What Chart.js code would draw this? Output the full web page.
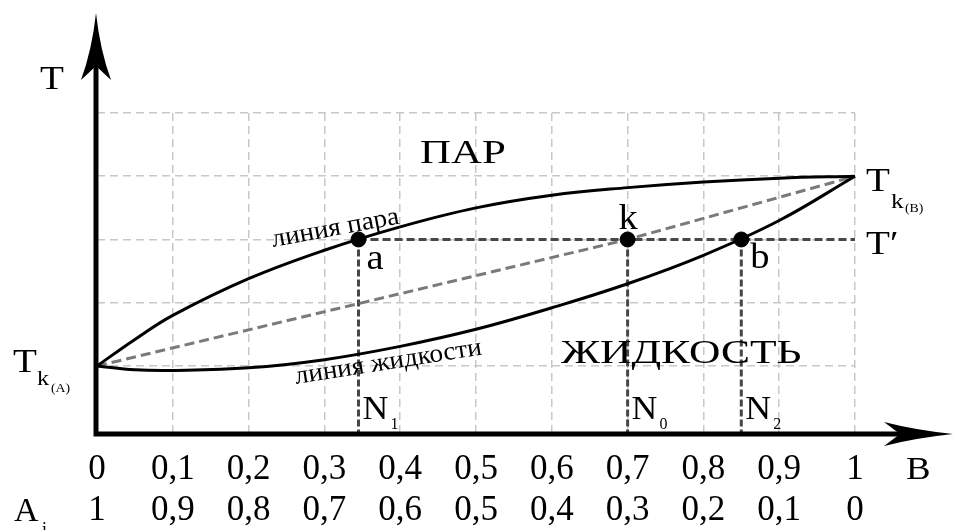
<!DOCTYPE html>
<html>
<head>
<meta charset="utf-8">
<title>Диаграмма кипения</title>
<script src="https://cdn.jsdelivr.net/npm/chart.js@4/dist/chart.umd.min.js"></script>
<style>
    html, body { margin: 0; padding: 0; background: #fff; }
    #chart { display: block; }
</style>
</head>
<body>
<canvas id="chart" width="956" height="530"></canvas>
<script>
// Composition axis: fraction of B, with the fraction of A underneath
const bTicks = [0, 0.1, 0.2, 0.3, 0.4, 0.5, 0.6, 0.7, 0.8, 0.9, 1];
const bLabels = ['0', '0,1', '0,2', '0,3', '0,4', '0,5', '0,6', '0,7', '0,8', '0,9', '1'];
const aLabels = ['1', '0,9', '0,8', '0,7', '0,6', '0,5', '0,4', '0,3', '0,2', '0,1', '0'];
const tGrid = [1, 2, 3, 4, 5];

// Vapour line (upper curve)
const vapourX = [0, 0.05, 0.1, 0.2, 0.3, 0.4, 0.5, 0.6, 0.7, 0.8, 0.9, 1];
const vapourT = [1, 1.42, 1.8, 2.38, 2.83, 3.2, 3.5, 3.70, 3.82, 3.91, 3.97, 4];

// Liquid line (lower curve)
const liquidX = [0, 0.05, 0.1, 0.2, 0.3, 0.4, 0.5, 0.6, 0.7, 0.8, 0.9, 1];
const liquidT = [1, 0.94, 0.93, 0.97, 1.1, 1.31, 1.58, 1.92, 2.30, 2.75, 3.3, 4];

// Dashed line from Tk(A) through k to Tk(B)
const diagX = [0, 0.7, 1];
const diagT = [1, 3, 4];

// Points a, k, b on the isotherm T'
const pointNames = ['a', 'k', 'b'];
const pointX = [0.345, 0.7, 0.85];
const dropNames = ['1', '0', '2'];
const tPrime = 3;

const T_MIN = -0.06;
const T_MAX = 5;
const serif = '"Liberation Serif", "DejaVu Serif", serif';

const toXY = (xs, ys) => xs.map((x, i) => ({ x: x, y: ys[i] }));

// Vertical drop lines from each point down to the axis
const dropLines = pointX.map(x => ({
    data: [{ x: x, y: tPrime }, { x: x, y: T_MIN }],
    borderColor: '#474747',
    borderWidth: 3,
    borderDash: [7, 3],
    pointRadius: 0,
    showLine: true,
    clip: false
}));

// Text helper, slightly widened like the original lettering
function label(ctx, s, x, y, size, sx, angle) {
    ctx.save();
    ctx.translate(x, y);
    if (angle) ctx.rotate(angle * Math.PI / 180);
    ctx.scale(sx || 1.15, 1);
    ctx.font = size + 'px ' + serif;
    ctx.fillStyle = '#000';
    ctx.textBaseline = 'alphabetic';
    ctx.fillText(s, 0, 0);
    ctx.restore();
}

// Thick axes with notched arrow heads plus all the annotations
const diagramPlugin = {
    id: 'diagram',
    afterDatasetsDraw(chart) {
        const ctx = chart.ctx;
        const xs = chart.scales.x;
        const ys = chart.scales.y;
        const ox = xs.left - 1;
        const oy = ys.bottom + 1;

        ctx.save();
        ctx.strokeStyle = '#000';
        ctx.fillStyle = '#000';
        ctx.lineWidth = 5;
        ctx.beginPath();
        ctx.moveTo(ox, oy + 2.5);
        ctx.lineTo(ox, 40);
        ctx.moveTo(ox - 2.5, oy);
        ctx.lineTo(920, oy);
        ctx.stroke();

        // y arrow
        ctx.beginPath();
        ctx.moveTo(ox, 13);
        ctx.quadraticCurveTo(ox - 4, 50, ox - 15, 80);
        ctx.lineTo(ox, 66);
        ctx.lineTo(ox + 15, 80);
        ctx.quadraticCurveTo(ox + 4, 50, ox, 13);
        ctx.fill();

        // x arrow
        ctx.beginPath();
        ctx.moveTo(953, oy);
        ctx.quadraticCurveTo(915, oy - 4, 884, oy - 12);
        ctx.lineTo(900, oy);
        ctx.lineTo(884, oy + 12);
        ctx.quadraticCurveTo(915, oy + 4, 953, oy);
        ctx.fill();
        ctx.restore();

        // axis names
        label(ctx, 'T', 40, 89, 34);
        label(ctx, 'B', 906, 479, 32);
        label(ctx, 'A', 14, 521, 34, 1.0);
        label(ctx, 'i', 42, 535, 18, 1.0);

        // critical temperatures
        const yA = ys.getPixelForValue(vapourT[0]);
        label(ctx, 'T', 13, yA + 6, 34);
        label(ctx, 'k', 37, yA + 19, 21);
        label(ctx, '(A)', 51, yA + 26, 12);
        const xB = xs.getPixelForValue(1);
        const yB = ys.getPixelForValue(vapourT[vapourT.length - 1]);
        label(ctx, 'T', xB + 11, yB + 15, 34);
        label(ctx, 'k', xB + 36, yB + 32, 22);
        label(ctx, '(B)', xB + 50, yB + 36, 12);
        label(ctx, 'T\u2032', xB + 11, ys.getPixelForValue(tPrime) + 15, 34);

        // region names
        label(ctx, 'ПАР', 420, 163, 33, 1.3);
        label(ctx, 'ЖИДКОСТЬ', 561, 363, 34, 1.28);

        // curve names
        label(ctx, 'линия пара', 273, 247, 26, 1.05, -10.5);
        label(ctx, 'линия жидкости', 296, 384, 26, 1.05, -9);

        // point letters and composition marks
        const yT = ys.getPixelForValue(tPrime);
        const pa = xs.getPixelForValue(pointX[0]);
        const pk = xs.getPixelForValue(pointX[1]);
        const pb = xs.getPixelForValue(pointX[2]);
        label(ctx, pointNames[0], pa + 8, yT + 30, 35, 1.1);
        label(ctx, pointNames[1], pk - 9, yT - 10, 35, 1.1);
        label(ctx, pointNames[2], pb + 9, yT + 29, 35, 1.1);
        pointX.forEach((x, i) => {
            const px = xs.getPixelForValue(x);
            label(ctx, 'N', px + 4, oy - 15, 34, 1.05);
            label(ctx, dropNames[i], px + 32, oy - 5, 16, 1.0);
        });
    }
};

new Chart(document.getElementById('chart').getContext('2d'), {
    type: 'scatter',
    data: {
        datasets: [
            {
                data: pointX.map(x => ({ x: x, y: tPrime })),
                backgroundColor: '#000',
                borderColor: '#000',
                pointRadius: 7.5,
                showLine: false,
                clip: false
            },
            {
                data: toXY(vapourX, vapourT),
                borderColor: '#000',
                borderWidth: 3,
                pointRadius: 0,
                showLine: true,
                tension: 0.4,
                clip: false
            },
            {
                data: toXY(liquidX, liquidT),
                borderColor: '#000',
                borderWidth: 3,
                pointRadius: 0,
                showLine: true,
                tension: 0.4,
                clip: false
            },
            {
                data: toXY(diagX, diagT),
                borderColor: '#7a7a7a',
                borderWidth: 3,
                borderDash: [10, 5],
                pointRadius: 0,
                showLine: true,
                clip: false
            },
            {
                data: [{ x: pointX[0], y: tPrime }, { x: 1, y: tPrime }],
                borderColor: '#474747',
                borderWidth: 3,
                borderDash: [8, 4],
                pointRadius: 0,
                showLine: true,
                clip: false
            },
            ...dropLines
        ]
    },
    options: {
        responsive: false,
        animation: false,
        events: [],
        layout: { padding: { left: 97, right: 101, top: 113, bottom: 0 } },
        plugins: {
            legend: { display: false },
            tooltip: { enabled: false }
        },
        scales: {
            x: {
                type: 'linear',
                min: 0,
                max: 1,
                afterBuildTicks: scale => { scale.ticks = bTicks.map(v => ({ value: v })); },
                afterFit: scale => { scale.height = 97; },
                grid: { color: '#c8c8c8', lineWidth: 1.5, drawTicks: false },
                border: { display: false, dash: [8, 5] },
                ticks: {
                    color: '#000',
                    autoSkip: false,
                    maxRotation: 0,
                    padding: 16,
                    font: { family: serif, size: 35, lineHeight: 1.18 },
                    callback: (value, i) => [bLabels[i], aLabels[i]]
                }
            },
            y: {
                type: 'linear',
                min: T_MIN,
                max: T_MAX,
                afterBuildTicks: scale => { scale.ticks = tGrid.map(v => ({ value: v })); },
                afterFit: scale => { scale.width = 0; },
                grid: { color: '#c8c8c8', lineWidth: 1.5, drawTicks: false },
                border: { display: false, dash: [8, 5] },
                ticks: { display: false }
            }
        }
    },
    plugins: [diagramPlugin]
});
</script>
</body>
</html>
